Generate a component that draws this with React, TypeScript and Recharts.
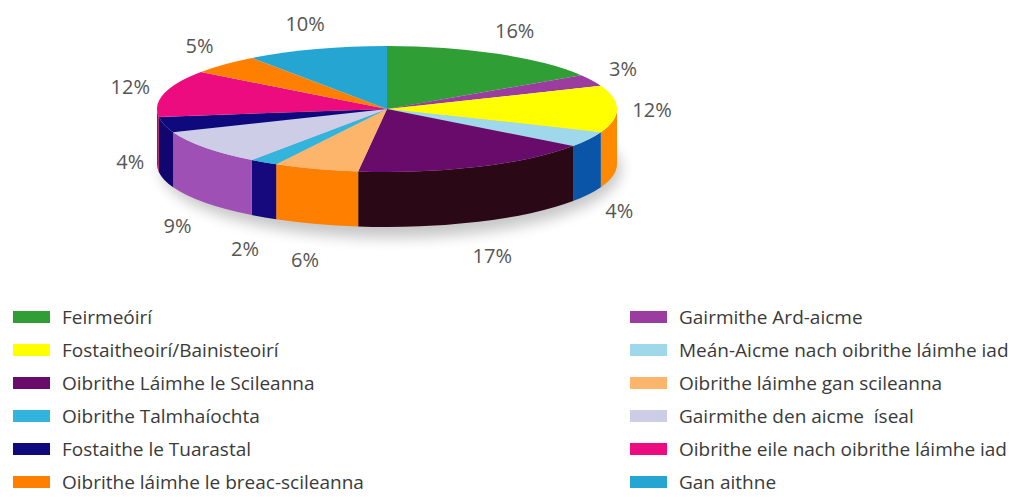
import React from "react";
import { PieChart, Pie, Legend } from "recharts";

// slices, clockwise from 12 o'clock
const categories = [
  "Feirmeóirí",
  "Gairmithe Ard-aicme",
  "Fostaitheoirí/Bainisteoirí",
  "Meán-Aicme nach oibrithe láimhe iad",
  "Oibrithe Láimhe le Scileanna",
  "Oibrithe láimhe gan scileanna",
  "Oibrithe Talmhaíochta",
  "Gairmithe den aicme  íseal",
  "Fostaithe le Tuarastal",
  "Oibrithe eile nach oibrithe láimhe iad",
  "Oibrithe láimhe le breac-scileanna",
  "Gan aithne",
];
const shares = [16, 3, 12, 4, 17, 6, 2, 9, 4, 12, 5, 10];

const COLORS = [
  "#2f9e35", "#9a3d9f", "#ffff00", "#9fd8ea", "#690b6a", "#fdb56b",
  "#32b4dc", "#cdcde8", "#0e0a7e", "#ec0c80", "#ff8000", "#24a5d2",
];
// side walls as they appear in the original artwork
const SIDE_COLORS = [
  "#1f7a25", "#6e2a73", "#ff8a00", "#0b55a8", "#2a0816", "#ff8000",
  "#16097e", "#9e50b4", "#10066e", "#b00a60", "#cc6600", "#1a7fa3",
];

const data = categories.map((name, i) => ({ name, value: shares[i] }));

const TILT = 63 / 230;
const DEPTH = 55;
const RAD = Math.PI / 180;

const renderSlice = (props: any) => {
  const { cx, cy, outerRadius, startAngle, endAngle, midAngle, index, value } = props;
  const rx = outerRadius;
  const ry = outerRadius * TILT;
  const pt = (a: number, dy = 0) => [cx + rx * Math.cos(a * RAD), cy - ry * Math.sin(a * RAD) + dy];
  const s = pt(startAngle);
  const e = pt(endAngle);
  const large = startAngle - endAngle > 180 ? 1 : 0;
  const top = `M${cx},${cy} L${s[0]},${s[1]} A${rx},${ry} 0 ${large} 1 ${e[0]},${e[1]} Z`;

  // front wall (screen lower half)
  let wall = null;
  const a1 = Math.min(startAngle, 0);
  const a2 = Math.max(endAngle, -180);
  if (a1 > a2) {
    const p1 = pt(a1);
    const p2 = pt(a2);
    const b1 = pt(a1, DEPTH);
    const b2 = pt(a2, DEPTH);
    wall = (
      <path
        d={`M${p1[0]},${p1[1]} A${rx},${ry} 0 0 1 ${p2[0]},${p2[1]} L${b2[0]},${b2[1]} A${rx},${ry} 0 0 0 ${b1[0]},${b1[1]} Z`}
        fill={SIDE_COLORS[index]}
      />
    );
  }

  const sin = Math.sin(midAngle * RAD);
  const lx = cx + 265 * Math.cos(midAngle * RAD);
  const ly = sin > 0 ? cy - 90 * sin : cy - 100 * sin + DEPTH * Math.min(1, -sin * 2);

  return (
    <g>
      {index === 0 && (
        <g>
          <defs>
            <filter id="pieShadow" x="-20%" y="-50%" width="140%" height="200%">
              <feGaussianBlur stdDeviation="7" />
            </filter>
          </defs>
          <ellipse cx={cx + 4} cy={cy + 60} rx={rx} ry={ry + 6} fill="#000" opacity={0.22} filter="url(#pieShadow)" />
        </g>
      )}
      {wall}
      <path d={top} fill={COLORS[index]} />
      <text
        x={lx}
        y={ly}
        textAnchor="middle"
        dominantBaseline="central"
        fontFamily="'Open Sans', sans-serif"
        fontSize={20}
        fill="#555"
      >
        {value}%
      </text>
    </g>
  );
};

const LegendGrid = () => (
  <div
    style={{
      display: "grid",
      gridTemplateColumns: "617px 1fr",
      gridAutoRows: "33px",
      paddingLeft: 5,
      fontFamily: "'Open Sans', sans-serif",
      fontSize: 19,
      color: "#3a3a3a",
    }}
  >
    {categories.map((name, i) => (
      <div key={name} style={{ display: "flex", alignItems: "center", whiteSpace: "pre" }}>
        <span style={{ width: 37, height: 12, background: COLORS[i], marginRight: 12, flexShrink: 0 }} />
        {name}
      </div>
    ))}
  </div>
);

export default function App() {
  return (
    <PieChart width={1008} height={489} margin={{ top: 0, right: 0, bottom: 0, left: 0 }}>
      <Pie
        data={data}
        dataKey="value"
        nameKey="name"
        cx={379}
        cy={101}
        outerRadius={230}
        startAngle={90}
        endAngle={-270}
        fill="none"
        stroke="none"
        label={renderSlice}
        labelLine={false}
        isAnimationActive={false}
      />
      <Legend
        verticalAlign="bottom"
        content={() => <LegendGrid />}
        wrapperStyle={{ top: 292, bottom: "auto", left: 0, width: 1008 }}
      />
    </PieChart>
  );
}
